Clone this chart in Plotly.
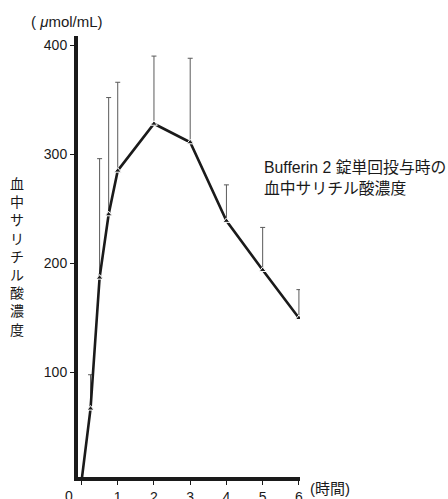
import plotly.graph_objects as go

# Plasma salicylic acid after a single dose of Bufferin (2 tablets)
hours = [0, 0.25, 0.5, 0.75, 1, 2, 3, 4, 5, 6]
mean_conc = [0, 67, 187, 245, 285, 328, 311, 239, 194, 150]
upper_conc = [None, 98, 296, 352, 366, 390, 388, 272, 233, 176]

x_ticks = [0, 1, 2, 3, 4, 5, 6]
y_ticks = [0, 100, 200, 300, 400]
y_tick_text = ["", "100", "200", "300", "400"]

FONT = "Liberation Sans, Arial, Noto Sans CJK JP, sans-serif"
INK = "#1a1a1a"

sample_x = hours[1:]
sample_y = mean_conc[1:]
err_plus = [u - m for u, m in zip(upper_conc[1:], mean_conc[1:])]

fig = go.Figure()

# upper SD bars
fig.add_trace(go.Scatter(
    x=sample_x, y=sample_y, mode="markers",
    marker=dict(size=1, color="rgba(0,0,0,0)"),
    error_y=dict(type="data", symmetric=False, array=err_plus,
                 arrayminus=[0] * len(err_plus),
                 color="#5a5a5a", thickness=1, width=2.5),
    hoverinfo="skip", showlegend=False,
))

# mean curve
fig.add_trace(go.Scatter(
    x=hours, y=mean_conc, mode="lines",
    line=dict(color=INK, width=2.6),
    showlegend=False,
))

# sample markers
fig.add_trace(go.Scatter(
    x=sample_x, y=sample_y, mode="markers",
    marker=dict(symbol="triangle-up", size=6, color=INK,
                line=dict(color="white", width=1)),
    showlegend=False,
))

fig.update_layout(
    width=448, height=499,
    margin=dict(l=78, r=148, t=36, b=22),
    paper_bgcolor="white", plot_bgcolor="white",
    font=dict(family=FONT, color=INK, size=13),
    xaxis=dict(
        range=[-0.096, 6.03], tickvals=x_ticks,
        ticktext=[""] + [str(v) for v in x_ticks[1:]],
        showgrid=False, zeroline=False,
        showline=True, linewidth=4, linecolor=INK,
        ticks="outside", ticklen=4, tickwidth=1, tickcolor=INK,
        tickfont=dict(size=14), automargin=False,
    ),
    yaxis=dict(
        range=[4.3, 408.4], tickvals=y_ticks, ticktext=y_tick_text,
        showgrid=False, zeroline=False,
        showline=True, linewidth=4, linecolor=INK,
        ticks="outside", ticklen=4, tickwidth=1, tickcolor=INK,
        tickfont=dict(size=14), automargin=False,
    ),
    annotations=[
        dict(text="0", xref="paper", yref="paper", x=-0.0135, y=-0.02,
             xanchor="right", yanchor="top", showarrow=False,
             font=dict(size=14)),
        dict(text="( <i>μ</i>mol/mL)", xref="paper", yref="paper",
             x=-0.0518, y=1.0324, xanchor="center", yanchor="middle",
             showarrow=False, font=dict(size=15)),
        dict(text="(時間)", xref="paper", yref="paper",
             x=1.137, y=-0.025, xanchor="center", yanchor="middle",
             showarrow=False, font=dict(size=15)),
        dict(text="<br>".join("血中サリチル酸濃度"), xref="paper", yref="paper",
             x=-0.275, y=0.5, xanchor="center", yanchor="middle",
             showarrow=False, font=dict(size=14)),
        dict(text="Bufferin 2 錠単回投与時の<br>血中サリチル酸濃度",
             xref="paper", yref="paper", x=0.829, y=0.679,
             xanchor="left", yanchor="middle", align="left",
             showarrow=False, font=dict(size=15.8)),
    ],
)

fig.write_html("out.html")
